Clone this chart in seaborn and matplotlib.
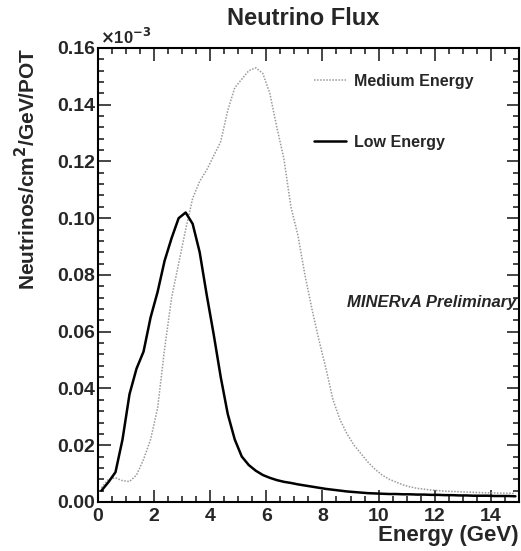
import numpy as np
import pandas as pd
import matplotlib
matplotlib.use("Agg")
import matplotlib.pyplot as plt
from matplotlib.ticker import MultipleLocator, FormatStrFormatter
import seaborn as sns

# Bin centres (GeV), 0.25 GeV bins from 0 to 15
energy = np.arange(0.125, 15.0, 0.25)

low_energy = [
    0.0040, 0.0070, 0.0105, 0.0220, 0.0380, 0.0470, 0.0530, 0.0650,
    0.0740, 0.0850, 0.0930, 0.1000, 0.1020, 0.0980, 0.0880, 0.0730,
    0.0590, 0.0440, 0.0310, 0.0220, 0.0160, 0.0130, 0.0110, 0.0095,
    0.0085, 0.0077, 0.0071, 0.0067, 0.0062, 0.0058, 0.0054, 0.0050,
    0.0046, 0.0043, 0.0040, 0.0037, 0.0035, 0.0033, 0.0031, 0.0030,
    0.0029, 0.0028, 0.0028, 0.0027, 0.0027, 0.0026, 0.0026, 0.0025,
    0.0025, 0.0024, 0.0024, 0.0023, 0.0023, 0.0022, 0.0022, 0.0022,
    0.0021, 0.0021, 0.0021, 0.0020,
]

medium_energy = [
    0.0050, 0.0080, 0.0085, 0.0075, 0.0072, 0.0095, 0.0150, 0.0220,
    0.0330, 0.0540, 0.0720, 0.0840, 0.0960, 0.1070, 0.1130, 0.1170,
    0.1220, 0.1270, 0.1380, 0.1460, 0.1490, 0.1520, 0.1530, 0.1510,
    0.1440, 0.1320, 0.1210, 0.1040, 0.0940, 0.0800, 0.0680, 0.0570,
    0.0470, 0.0360, 0.0290, 0.0240, 0.0200, 0.0170, 0.0140, 0.0115,
    0.0095, 0.0080, 0.0070, 0.0060, 0.0053, 0.0048, 0.0045, 0.0042,
    0.0040, 0.0038, 0.0037, 0.0036, 0.0035, 0.0034, 0.0033, 0.0032,
    0.0032, 0.0031, 0.0031, 0.0030,
]

series_names = ["Medium Energy", "Low Energy"]

df = pd.concat([
    pd.DataFrame({"Energy": energy, "Flux": medium_energy, "Beam": series_names[0]}),
    pd.DataFrame({"Energy": energy, "Flux": low_energy, "Beam": series_names[1]}),
])

sns.set_style("ticks")
plt.rcParams["font.family"] = ["Liberation Sans", "DejaVu Sans"]
plt.rcParams["font.weight"] = "bold"
plt.rcParams["mathtext.default"] = "bf"

fig = plt.figure(figsize=(5.21, 5.51), dpi=100)
ax = fig.add_axes([0.188, 0.089, 0.808, 0.824])

sns.lineplot(data=df[df.Beam == series_names[0]], x="Energy", y="Flux", ax=ax,
             color="#9a9a9a", linewidth=1.1, linestyle=(0, (1, 1)),
             label=series_names[0])
sns.lineplot(data=df[df.Beam == series_names[1]], x="Energy", y="Flux", ax=ax,
             color="black", linewidth=1.8, label=series_names[1])

ax.set_xlim(0, 15)
ax.set_ylim(0, 0.16)
ax.xaxis.set_major_locator(MultipleLocator(2))
ax.xaxis.set_minor_locator(MultipleLocator(0.5))
ax.yaxis.set_major_locator(MultipleLocator(0.02))
ax.yaxis.set_minor_locator(MultipleLocator(0.004))
ax.yaxis.set_major_formatter(FormatStrFormatter("%.2f"))
ax.tick_params(which="both", direction="in", top=True, right=True,
               labelsize=14, width=1.2)
ax.tick_params(axis="y", pad=2)
ax.tick_params(axis="x", pad=4)
ax.tick_params(which="major", length=9)
ax.tick_params(which="minor", length=4.5)
for s in ax.spines.values():
    s.set_linewidth(1.5)
    s.set_color("black")

ax.set_xlabel("Energy (GeV)", loc="right", fontsize=16, fontweight="bold", labelpad=0)
ax.set_ylabel("Neutrinos/cm$^2$/GeV/POT", loc="top", fontsize=15, fontweight="bold", labelpad=13)
fig.text(0.582, 0.967, "Neutrino Flux", ha="center", va="center",
         fontsize=17, fontweight="bold")
ax.text(0.005, 1.003, r"$\times$10$^{-3}$", transform=ax.transAxes,
        ha="left", va="bottom", fontsize=12)
ax.text(0.995, 0.44, "MINERvA Preliminary", transform=ax.transAxes,
        ha="right", va="center", fontsize=12, fontstyle="italic", fontweight="bold")

leg = ax.legend(loc="upper left", bbox_to_anchor=(0.48, 0.975), frameon=False,
                fontsize=11.5, handlelength=2.0, handletextpad=0.45,
                labelspacing=2.9)
for t in leg.get_texts():
    t.set_fontweight("bold")

fig.savefig("out.png", dpi=100)
